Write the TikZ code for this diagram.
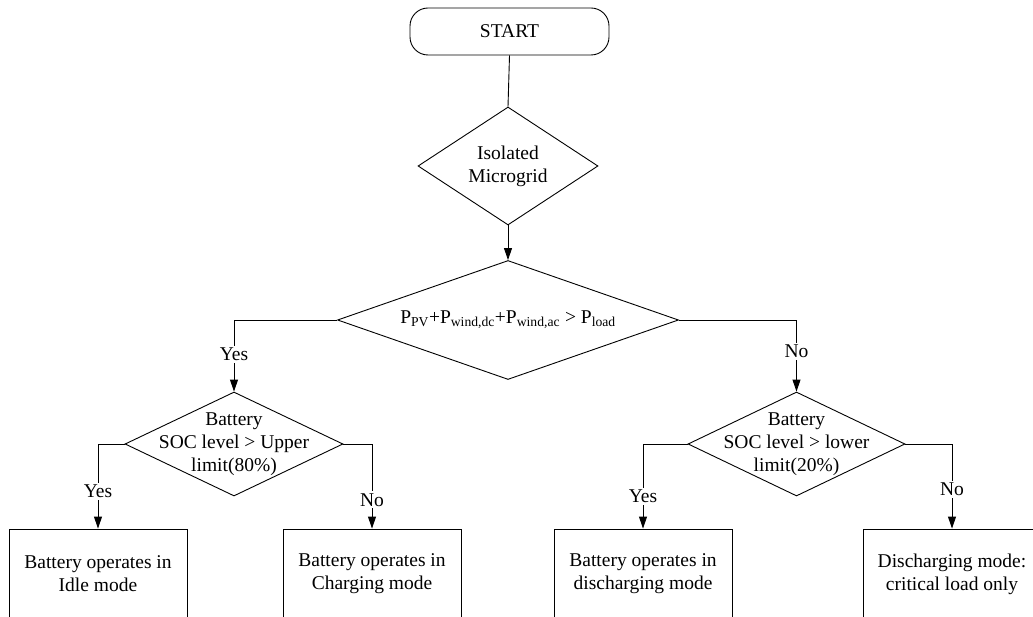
\documentclass[tikz,border=0pt]{standalone}
\usepackage{fontspec}
\setmainfont{LiberationSerif}[Extension=.ttf, UprightFont=*-Regular, BoldFont=*-Bold, ItalicFont=*-Italic, BoldItalicFont=*-BoldItalic]
\usetikzlibrary{shapes.geometric,arrows.meta}
\begin{document}
\begin{tikzpicture}[x=1pt,y=-1pt,
  every node/.style={font=\rmfamily\fontsize{19.5}{23}\selectfont},
  base/.style={draw=black, line width=0.9pt},
  dia/.style={base, shape=diamond, inner sep=0pt},
  box/.style={base, rectangle, minimum width=178pt, minimum height=90pt, align=center},
  term/.style={base, rectangle, rounded corners=18pt, minimum width=199pt, minimum height=47pt},
  conn/.style={line width=0.9pt},
  arr/.style={conn, -{Triangle[length=12pt,width=8pt]}},
  lab/.style={fill=white, inner sep=2pt}]
\useasboundingbox (0,0) rectangle (1033,617);
\clip (0,0) rectangle (1033,617);
\node[term] (start) at (509.5,31.5) {START};
\node[dia, minimum width=180pt, minimum height=118pt] (d1) at (508,166) {};
\node[align=center] (t1) at (d1) {Isolated\\Microgrid};
\node[dia, minimum width=341pt, minimum height=119pt] (d2) at (508,320) {};
\node (t2) at (d2) {P\textsubscript{PV}+P\textsubscript{wind,dc}+P\textsubscript{wind,ac} > P\textsubscript{load}};
\node[dia, minimum width=218pt, minimum height=104pt] (d3) at (234,444) {};
\node[align=center] (t3) at (d3) {Battery\\SOC level > Upper\\limit(80\%)};
\node[dia, minimum width=217pt, minimum height=104pt] (d4) at (796.5,444) {};
\node[align=center] (t4) at (d4) {Battery\\SOC level > lower\\limit(20\%)};
\node[box] (b1) at (98,574) {Battery operates in\\Idle mode};
\node[box] (b2) at (372,574) {Battery operates in\\Charging mode};
\node[box] (b3) at (643,574) {Battery operates in\\discharging mode};
\node[box] (b4) at (952,574) {Discharging mode:\\critical load only};
\draw[conn] (start.south) -- (d1.north);
\draw[arr] (d1.south) -- (d2.north);
\draw[arr] (d2.west) -| node[lab, pos=0.74] (y1) {Yes} (d3.north);
\draw[arr] (d2.east) -| node[lab, pos=0.72] (n1) {No} (d4.north);
\draw[arr] (d3.west) -| node[lab, pos=0.78] (y2) {Yes} (b1.north);
\draw[arr] (d3.east) -| node[lab, pos=0.83] (n2) {No} (b2.north);
\draw[arr] (d4.west) -| node[lab, pos=0.81] (y3) {Yes} (b3.north);
\draw[arr] (d4.east) -| node[lab, pos=0.77] (n3) {No} (b4.north);
\end{tikzpicture}
\end{document}
